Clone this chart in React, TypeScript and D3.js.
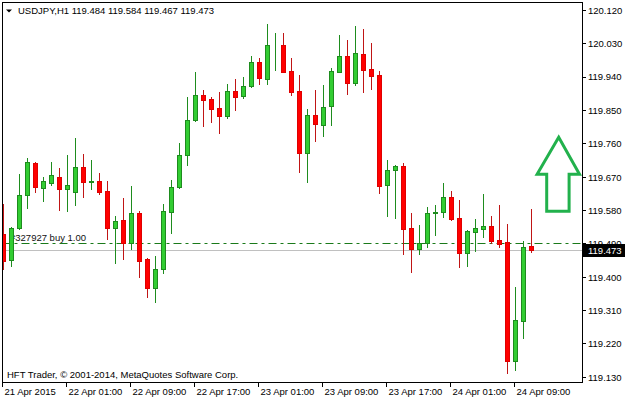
import * as d3 from 'd3'
import {useEffect} from "react";

// USDJPY H1 bars, 21 Apr 2015 17:00 .. 24 Apr 2015 11:00 (one per hour)
const opens = [
  119.517, 119.447, 119.533, 119.622, 119.708, 119.640, 119.655, 119.670, 119.639, 119.631,
  119.698, 119.658, 119.659, 119.632, 119.534, 119.555, 119.492, 119.573, 119.449, 119.371,
  119.421, 119.577, 119.643, 119.731, 119.824, 119.891, 119.881, 119.856, 119.836, 119.903,
  119.890, 119.915, 119.981, 119.936, 120.026, 120.027, 119.957, 119.903, 119.736, 119.837,
  119.812, 119.863, 119.955, 119.997, 119.925, 120.003, 119.962, 119.946, 119.648, 119.689,
  119.700, 119.533, 119.475, 119.493, 119.573, 119.575, 119.617, 119.560, 119.465, 119.523,
  119.531, 119.538, 119.501, 119.495, 119.174, 119.283, 119.484,
]
const highs = [
  119.598, 119.536, 119.679, 119.722, 119.711, 119.671, 119.711, 119.695, 119.730, 119.776,
  119.733, 119.716, 119.681, 119.660, 119.565, 119.615, 119.646, 119.579, 119.451, 119.457,
  119.598, 119.663, 119.762, 119.887, 119.954, 119.905, 119.887, 119.900, 119.922, 119.935,
  119.941, 119.997, 119.992, 120.084, 120.059, 120.059, 119.992, 119.946, 119.854, 119.905,
  119.919, 119.964, 120.054, 120.040, 120.078, 120.070, 120.032, 119.957, 119.716, 119.704,
  119.709, 119.573, 119.541, 119.590, 119.595, 119.654, 119.633, 119.609, 119.528, 119.557,
  119.626, 119.566, 119.596, 119.544, 119.374, 119.498, 119.584,
]
const lows = [
  119.422, 119.430, 119.530, 119.587, 119.631, 119.607, 119.648, 119.582, 119.580, 119.594,
  119.616, 119.639, 119.625, 119.504, 119.439, 119.449, 119.477, 119.402, 119.348, 119.334,
  119.412, 119.520, 119.642, 119.704, 119.822, 119.808, 119.820, 119.790, 119.831, 119.851,
  119.885, 119.914, 119.922, 119.922, 119.960, 119.954, 119.893, 119.685, 119.658, 119.769,
  119.782, 119.812, 119.954, 119.895, 119.919, 119.901, 119.909, 119.628, 119.566, 119.561,
  119.463, 119.415, 119.463, 119.481, 119.515, 119.563, 119.555, 119.428, 119.430, 119.472,
  119.509, 119.493, 119.482, 119.142, 119.150, 119.237, 119.467,
]
const closes = [
  119.443, 119.532, 119.622, 119.710, 119.643, 119.659, 119.675, 119.639, 119.649, 119.698,
  119.658, 119.660, 119.629, 119.534, 119.551, 119.492, 119.573, 119.445, 119.372, 119.421,
  119.578, 119.643, 119.730, 119.824, 119.891, 119.878, 119.855, 119.836, 119.903, 119.887,
  119.916, 119.981, 119.939, 120.027, 120.027, 119.955, 119.901, 119.736, 119.837, 119.814,
  119.859, 119.957, 119.997, 119.925, 120.005, 119.960, 119.944, 119.647, 119.689, 119.700,
  119.531, 119.477, 119.492, 119.573, 119.575, 119.617, 119.557, 119.466, 119.525, 119.533,
  119.538, 119.499, 119.491, 119.174, 119.285, 119.481, 119.473,
]

const xTickIndex = [0, 8, 16, 24, 32, 40, 48, 56, 64]
const xTickLabels = [
  '21 Apr 2015', '22 Apr 01:00', '22 Apr 09:00', '22 Apr 17:00', '23 Apr 01:00',
  '23 Apr 09:00', '23 Apr 17:00', '24 Apr 01:00', '24 Apr 09:00',
]
const yTicks = [120.12, 120.03, 119.94, 119.85, 119.76, 119.67, 119.58, 119.49, 119.40, 119.31, 119.22, 119.13]

const orderPrice = 119.49
const orderLabel = '#327927 buy 1.00'
const bidPrice = 119.473

// arrow annotation, in (bar index, price)
const arrowPts: [number, number][] = [
  [69.4, 119.778], [72.0, 119.678], [70.7, 119.678], [70.7, 119.578],
  [67.9, 119.578], [67.9, 119.678], [66.7, 119.678],
]

const font = '"Liberation Sans", Arial, sans-serif'

export default function App() {
  useEffect(() => {
    document.body.style.margin = '0'
  }, [])

  const width = 625
  const height = 400
  const left = 2.5, top = 2.5, right = 582.5, bottom = 382.5

  const x = d3.scaleLinear([0, 66], [3.5, 531.5])
  const y = d3.scaleLinear([119.13, 120.12], [377.3, 10.5])
  const px = (v: number) => Math.floor(v) + 0.5

  const last = opens.length - 1
  const title = `USDJPY,H1  ${opens[last].toFixed(3)} ${highs[last].toFixed(3)} ${lows[last].toFixed(3)} ${closes[last].toFixed(3)}`

  const arrowPath = d3.line()(arrowPts.map(([i, p]) => [x(i), y(p)] as [number, number])) + 'Z'

  return (
    <svg width={width} height={height} style={{position: 'absolute', left: 0, top: 0, background: '#fff'}}
         fontFamily={font}>
      <defs>
        <clipPath id="plot">
          <rect x={3} y={3} width={right - 3} height={bottom - 3}/>
        </clipPath>
      </defs>
      <rect width={width} height={height} fill="#fff"/>

      {/* bid line and order line */}
      <line x1={left} x2={right} y1={px(y(bidPrice))} y2={px(y(bidPrice))} stroke="#c0c0c0"/>
      <line x1={left} x2={right} y1={px(y(orderPrice))} y2={px(y(orderPrice))} stroke="#1a7a1a"
            strokeDasharray="8 4 3 4"/>
      <text x={10} y={px(y(orderPrice)) - 3} fontSize={9.5} fill="#111">{orderLabel}</text>

      <g clipPath="url(#plot)" shapeRendering="crispEdges">
        {opens.map((o, i) => {
          const c = closes[i]
          const up = c >= o
          const cx = px(x(i))
          const yTop = Math.round(y(Math.max(o, c))) + 0.5
          const yBot = Math.round(y(Math.min(o, c))) + 0.5
          return (
            <g key={i}>
              <line x1={cx} x2={cx} y1={Math.round(y(highs[i]))} y2={Math.round(y(lows[i])) + 1}
                    stroke={up ? '#1e8c1e' : '#c01515'}/>
              <rect x={cx - 2} y={yTop} width={4} height={Math.max(0, yBot - yTop)}
                    fill={up ? '#32cd32' : '#ff0000'} stroke={up ? '#1e8c1e' : '#e00000'}/>
            </g>
          )
        })}
      </g>

      <path d={arrowPath} fill="none" stroke="#22b14c" strokeWidth={3}/>

      {/* frame */}
      <rect x={left} y={top} width={right - left} height={bottom - top} fill="none" stroke="#000"
            shapeRendering="crispEdges"/>

      {/* right axis */}
      {yTicks.map(t => (
        <g key={t}>
          <line x1={right} x2={right + 3} y1={px(y(t))} y2={px(y(t))} stroke="#000" shapeRendering="crispEdges"/>
          <text x={588} y={y(t) + 3.3} fontSize={9.5} fill="#000">{t.toFixed(3)}</text>
        </g>
      ))}
      <rect x={583} y={px(y(bidPrice)) - 6.5} width={42} height={13} fill="#000"/>
      <text x={588} y={y(bidPrice) + 3.5} fontSize={9.5} fill="#fff">{bidPrice.toFixed(3)}</text>

      {/* bottom axis */}
      {xTickIndex.map((idx, j) => (
        <g key={idx}>
          <line x1={px(x(idx)) - 1} x2={px(x(idx)) - 1} y1={bottom} y2={bottom + 4} stroke="#000"
                shapeRendering="crispEdges"/>
          <text x={px(x(idx)) + 1} y={395} fontSize={9.5} fill="#000">{xTickLabels[j]}</text>
        </g>
      ))}

      {/* title */}
      <path d="M6,9.5 L12,9.5 L9,12.5 Z" fill="#000"/>
      <text x={18} y={14} fontSize={9.5} fill="#000">{title}</text>
      <text x={7} y={377.5} fontSize={9.5} fill="#000">HFT Trader, © 2001-2014, MetaQuotes Software Corp.</text>
    </svg>
  )
}
